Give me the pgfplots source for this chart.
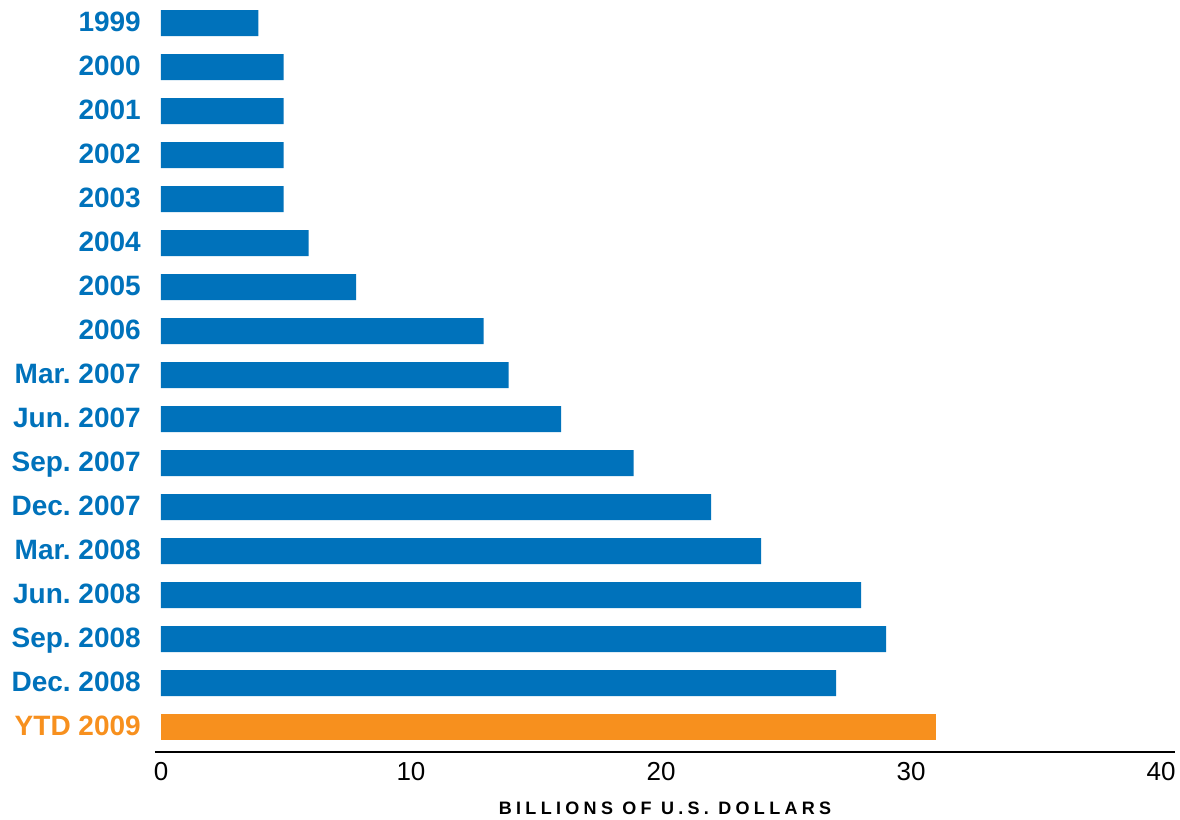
\documentclass[border=0pt]{standalone}
\usepackage{fontspec}
\setmainfont{Liberation Sans}
\usepackage{pgfplots}
\pgfplotsset{compat=1.18}
\definecolor{barblue}{RGB}{0,114,187}
\definecolor{barorange}{RGB}{247,144,30}
\frenchspacing
\begin{document}
\begin{tikzpicture}
\path[use as bounding box] (-155pt,-67pt) rectangle (1025pt,752pt);
\begin{axis}[
  at={(0pt,0pt)}, anchor=south west,
  scale only axis, width=1020pt, height=752pt,
  xmin=-0.24, xmax=40.56,
  ymin=-0.568, ymax=16.523,
  xbar, bar width=26pt, bar shift=0pt,
  axis x line=bottom, axis y line=left,
  axis line style={-, line width=1.6pt, black},
  y axis line style={draw=none},
  major tick length=0pt, tick style={draw=none},
  xtick={0,10,20,30,40},
  xticklabels={0,10,20,30,40},
  xticklabel style={anchor=north, inner sep=0pt, yshift=-10pt, font=\fontsize{26}{28}\selectfont, text=black},
  ytick={0,...,16},
  yticklabels={
    \textcolor{barorange}{YTD 2009},
    Dec. 2008, Sep. 2008, Jun. 2008, Mar. 2008,
    Dec. 2007, Sep. 2007, Jun. 2007, Mar. 2007,
    2006, 2005, 2004, 2003, 2002, 2001, 2000, 1999},
  yticklabel style={anchor=base east, inner sep=0pt, xshift=-14pt, yshift=-8.5pt, font=\fontsize{28}{30}\selectfont\bfseries\frenchspacing, text=barblue},
  xlabel={\addfontfeature{LetterSpace=24}BILLIONS OF U.S. DOLLARS},
  xlabel style={at={(axis description cs:0.5,0)}, anchor=north, inner sep=0pt, yshift=-50pt, font=\fontsize{18}{20}\selectfont\bfseries\frenchspacing, text=black},
  clip=false,
]
\addplot[fill=barblue, draw=none] coordinates {
  (27,1) (29,2) (28,3) (24,4) (22,5) (18.9,6) (16,7) (13.9,8)
  (12.9,9) (7.8,10) (5.9,11) (4.9,12) (4.9,13) (4.9,14) (4.9,15) (3.9,16)
};
\addplot[fill=barorange, draw=none] coordinates {(31,0)};
\end{axis}
\end{tikzpicture}
\end{document}
